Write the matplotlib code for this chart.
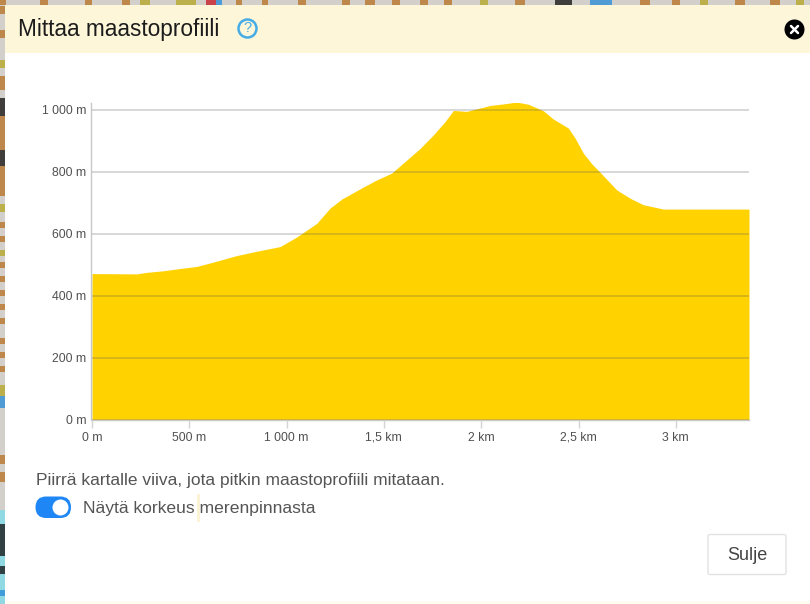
#!/usr/bin/env python3
"""Maastoprofiili dialog: yellow elevation area chart inside a cream-headed modal."""
import matplotlib
matplotlib.use("Agg")
import matplotlib.pyplot as plt
from matplotlib.patches import Circle, FancyBboxPatch, Rectangle

W, H = 810, 604
plt.rcParams.update({"font.family": ["Liberation Sans", "DejaVu Sans"]})

distance_m = [0, 230, 281, 366, 435, 538, 623, 743, 846, 966, 983, 1052, 1155, 1223, 1283,
              1394, 1463, 1540, 1608, 1685, 1754, 1814, 1857, 1925, 1977, 2045, 2114, 2182,
              2242, 2319, 2371, 2448, 2482, 2525, 2568, 2610, 2696, 2765, 2833, 2936, 3376]
elevation_m = [472, 471, 476, 481, 487, 495, 509, 530, 544, 559, 565, 590, 634, 683, 712,
               751, 774, 796, 833, 875, 919, 962, 998, 995, 1003, 1014, 1019, 1025,
               1018, 997, 970, 941, 909, 860, 826, 799, 742, 715, 694, 680, 680]
x_ticks = [0, 500, 1000, 1500, 2000, 2500, 3000]
x_labels = ["0 m", "500 m", "1 000 m", "1,5 km", "2 km", "2,5 km", "3 km"]
y_ticks = [0, 200, 400, 600, 800, 1000]
y_labels = ["0 m", "200 m", "400 m", "600 m", "800 m", "1 000 m"]

# bits of the map showing behind the dialog: (start px, end px, colour)
BROWN = "#B9762E"; OLIVE = "#B7A92E"; BLACK = "#1A1A1A"; BLUE = "#2E8FD8"; CYAN = "#7FDCE8"
map_left = [(6, 14, BROWN), (30, 38, BROWN), (60, 68, OLIVE), (76, 90, BROWN), (98, 116, BLACK),
            (116, 150, BROWN), (150, 166, BLACK), (166, 196, BROWN), (204, 212, OLIVE),
            (222, 228, BROWN), (236, 242, BROWN), (250, 256, OLIVE), (262, 268, BROWN),
            (276, 282, BROWN), (290, 296, BROWN), (304, 310, BROWN), (318, 324, BROWN),
            (338, 344, BROWN), (352, 358, BROWN), (366, 372, BROWN), (385, 396, OLIVE),
            (396, 408, BLUE), (455, 464, BROWN), (472, 482, BROWN), (510, 604, CYAN),
            (524, 556, BLACK), (566, 574, BLACK), (590, 596, BLUE)]
map_top = [(0, 6, BROWN), (40, 48, BROWN), (85, 92, BROWN), (122, 130, BROWN), (140, 150, OLIVE),
           (176, 196, OLIVE), (206, 216, "#C8202A"), (216, 222, BLUE), (236, 242, BROWN),
           (262, 268, BROWN), (298, 306, BROWN), (342, 350, BROWN), (365, 375, BROWN),
           (392, 400, BROWN), (420, 428, BROWN), (444, 452, BROWN), (480, 488, OLIVE),
           (515, 525, BROWN), (555, 572, BLACK), (590, 612, BLUE), (640, 650, BROWN),
           (672, 680, BROWN), (700, 708, OLIVE), (735, 745, BROWN), (770, 780, BROWN), (796, 804, OLIVE)]

fig = plt.figure(figsize=(W / 100, H / 100), dpi=100, facecolor="#D3CFCB")

# page layer in pixel coordinates, y pointing down like the screenshot
ui = fig.add_axes([0, 0, 1, 1])
ui.set_xlim(0, W); ui.set_ylim(H, 0); ui.axis("off")
for y0, y1, col in map_left:
    ui.add_patch(Rectangle((0, y0), 5, y1 - y0, fc=col, ec="none", alpha=0.8))
for x0, x1, col in map_top:
    ui.add_patch(Rectangle((x0, 0), x1 - x0, 5, fc=col, ec="none", alpha=0.8))
ui.add_patch(Rectangle((5, 5), W, H, fc="white", ec="none"))
ui.add_patch(Rectangle((5, 5), W, 47.5, fc="#FDF6D9", ec="none"))
ui.add_patch(Rectangle((5, 601), W, 3, fc="#FFFDF2", ec="none"))
ui.text(18, 29.5, "Mittaa maastoprofiili", fontsize=16.25, color="#1c1c1c", va="center", ha="left")
ui.add_patch(Circle((247.5, 28.5), 9, fc="none", ec="#45ACE6", lw=1.8))
ui.text(247.5, 28.5, "?", fontsize=10.5, color="#45ACE6", ha="center", va="center")
ui.add_patch(Circle((794.5, 29.5), 10, fc="black", ec="none"))
ui.plot([791, 798], [26, 33], color="white", lw=1.8, solid_capstyle="round")
ui.plot([791, 798], [33, 26], color="white", lw=1.8, solid_capstyle="round")

ui.text(36, 481, "Piirrä kartalle viiva, jota pitkin maastoprofiili mitataan.",
        fontsize=12.5, color="#555555", va="center", ha="left")
ui.add_patch(FancyBboxPatch((35.5, 496.5), 35.5, 21.5, boxstyle="round,pad=0,rounding_size=10.7",
                            fc="#1E86F5", ec="none"))
ui.add_patch(Circle((60.5, 507.5), 8, fc="white", ec="none"))
ui.text(83, 508, "Näytä korkeus merenpinnasta", fontsize=12.6, color="#555555", va="center", ha="left")
ui.add_patch(Rectangle((197, 494), 2.5, 28, fc="#FBF3D5", ec="none"))
ui.add_patch(FancyBboxPatch((708, 534.5), 78, 40, boxstyle="round,pad=0,rounding_size=2",
                            fc="white", ec="#E2E2E2", lw=1.0))
ui.text(747, 555, "Sulje", fontsize=13, color="#444444", ha="center", va="center")

# chart, placed so data coordinates land on the screenshot pixels
left, right, top, bottom = 92, 749, 103, 420
ax = fig.add_axes([left / W, 1 - bottom / H, (right - left) / W, (bottom - top) / H])
ax.patch.set_alpha(0)
ax.set_xlim(0, 3376); ax.set_ylim(0, 1022)
ax.fill_between(distance_m, elevation_m, 0, color="#FFD200", lw=0, zorder=1)
ax.set_yticks(y_ticks, y_labels); ax.set_xticks(x_ticks, x_labels)
ax.grid(axis="y", color="#5A5A5A", alpha=0.28, lw=1.2, zorder=2)
ax.set_axisbelow(False)
for side in ("top", "right"):
    ax.spines[side].set_visible(False)
for side in ("left", "bottom"):
    ax.spines[side].set_color("#C8C8C8"); ax.spines[side].set_linewidth(1.0)
ax.spines["left"].set_position(("outward", 0.7))
ax.tick_params(axis="x", length=6, width=1, color="#D4D4D4", labelcolor="#505050", labelsize=8.8, pad=2.5)
ax.tick_params(axis="y", length=0, labelcolor="#505050", labelsize=8.8, pad=3.5)

fig.savefig("out.png", dpi=100, facecolor=fig.get_facecolor())
plt.close(fig)
